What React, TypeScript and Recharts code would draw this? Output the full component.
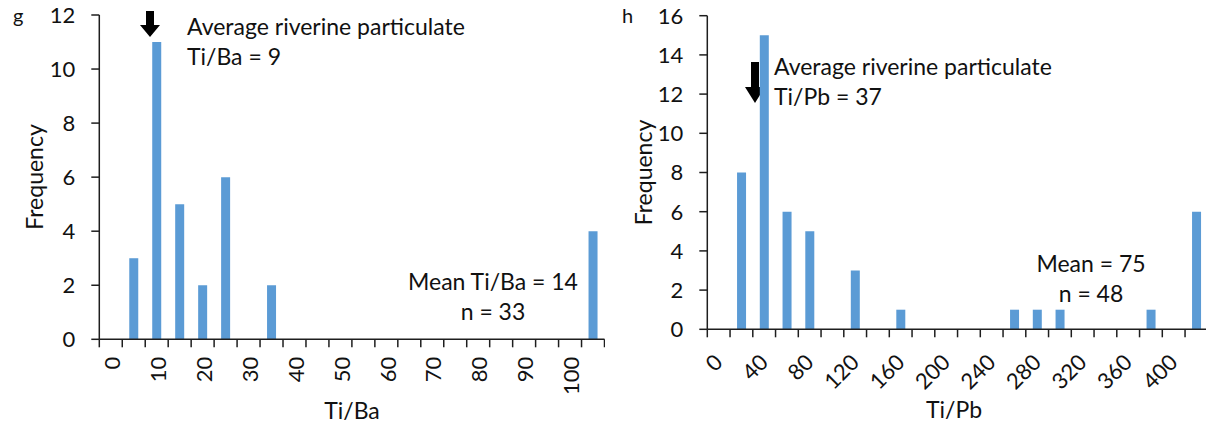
import React from "react";
import { BarChart, Bar, XAxis, YAxis } from "recharts";

// ---- Data ----
const tiBaBins = ["0", "5", "10", "15", "20", "25", "30", "35", "40", "45", "50", "55", "60", "65", "70", "75", "80", "85", "90", "95", "100", "More"];
const tiBaFreq = [0, 3, 11, 5, 2, 6, 0, 2, 0, 0, 0, 0, 0, 0, 0, 0, 0, 0, 0, 0, 0, 4];
const tiBaYTicks = [0, 2, 4, 6, 8, 10, 12];

const tiPbBins = ["0", "20", "40", "60", "80", "100", "120", "140", "160", "180", "200", "220", "240", "260", "280", "300", "320", "340", "360", "380", "400", "More"];
const tiPbFreq = [0, 8, 15, 6, 5, 0, 3, 0, 1, 0, 0, 0, 0, 1, 1, 1, 0, 0, 0, 1, 0, 6];
const tiPbYTicks = [0, 2, 4, 6, 8, 10, 12, 14, 16];

const tiBaData = tiBaBins.map((bin, i) => ({ bin, freq: tiBaFreq[i] }));
const tiPbData = tiPbBins.map((bin, i) => ({ bin, freq: tiPbFreq[i] }));

// ---- Style ----
const FONT = "Lato, 'Liberation Sans', sans-serif";
const FS = 23;
const AXIS = "#1e1e1e";
const TEXT = "#111111";
const BAR = "#5B9BD5";

function makeXTick(band: number, count: number, angle: number, gap: number, dxAdj: number) {
  return (props: any) => {
    const { x, y, payload, index } = props;
    const left = x - band / 2;
    const ax = x + dxAdj;
    const ay = y + gap;
    return (
      <g>
        <line x1={left} y1={y} x2={left} y2={y + 8} stroke={AXIS} strokeWidth={1.5} />
        {index === count - 1 && (
          <line x1={x + band / 2} y1={y} x2={x + band / 2} y2={y + 8} stroke={AXIS} strokeWidth={1.5} />
        )}
        {index % 2 === 0 && (
          <text
            x={ax}
            y={ay}
            dy="0.35em"
            textAnchor="end"
            transform={`rotate(${angle}, ${ax}, ${ay})`}
            fill={TEXT}
            fontSize={22}
            fontFamily={FONT}
          >
            {payload.value}
          </text>
        )}
      </g>
    );
  };
}

function Arrow({ cx, top, headTop, tip }: { cx: number; top: number; headTop: number; tip: number }) {
  const d = `M ${cx - 4} ${top} L ${cx + 4} ${top} L ${cx + 4} ${headTop} L ${cx + 10} ${headTop} L ${cx} ${tip} L ${cx - 10} ${headTop} L ${cx - 4} ${headTop} Z`;
  return <path d={d} fill="#000" />;
}

const txt = { fill: TEXT, fontSize: FS, fontFamily: FONT } as const;

export default function App() {
  const band1 = (604.5 - 99.3) / 22;
  const band2 = (1207.8 - 707.3) / 22;
  return (
    <div
      style={{
        position: "absolute",
        left: 0,
        top: 0,
        width: 1206,
        height: 429,
        overflow: "hidden",
        background: "#fff",
      }}
    >
      <div style={{ position: "absolute", left: 0, top: 0 }}>
        <BarChart
          width={605}
          height={429}
          data={tiBaData}
          margin={{ top: 15, right: 0.5, bottom: 29.7, left: 39.3 }}
          barSize={9}
        >
          <XAxis
            dataKey="bin"
            interval={0}
            tickSize={0}
            tickMargin={0}
            tickLine={false}
            axisLine={{ stroke: AXIS, strokeWidth: 1.5 }}
            tick={makeXTick(band1, tiBaBins.length, -90, 17.5, 1.5)}
            height={60}
          />
          <YAxis
            type="number"
            domain={[0, 12]}
            ticks={tiBaYTicks}
            interval={0}
            width={60}
            tickSize={8}
            tickMargin={16}
            axisLine={{ stroke: AXIS, strokeWidth: 1.5 }}
            tickLine={{ stroke: AXIS, strokeWidth: 1.5 }}
            tick={{ fill: TEXT, fontSize: 22, fontFamily: FONT }}
          />
          <Bar dataKey="freq" fill={BAR} isAnimationActive={false} />
          <text x={13} y={23} fill={TEXT} fontSize={20} fontFamily={FONT}>g</text>
          <text x={35} y={177} dy="0.35em" textAnchor="middle" transform="rotate(-90, 35, 177)" {...txt}>Frequency</text>
          <Arrow cx={150} top={11} headTop={25} tip={37} />
          <text x={187} y={35} {...txt}>Average riverine particulate</text>
          <text x={187} y={65} {...txt}>Ti/Ba = 9</text>
          <text x={493} y={290} textAnchor="middle" {...txt}>Mean Ti/Ba = 14</text>
          <text x={493} y={320} textAnchor="middle" {...txt}>n = 33</text>
          <text x={352} y={419} textAnchor="middle" {...txt}>Ti/Ba</text>
        </BarChart>
      </div>
      <div style={{ position: "absolute", left: 605, top: 0 }}>
        <BarChart
          width={610}
          height={429}
          data={tiPbData}
          margin={{ top: 15.7, right: 7.2, bottom: 39.7, left: 42.3 }}
          barSize={9}
        >
          <XAxis
            dataKey="bin"
            interval={0}
            tickSize={0}
            tickMargin={0}
            tickLine={false}
            axisLine={{ stroke: AXIS, strokeWidth: 1.5 }}
            tick={makeXTick(band2, tiPbBins.length, -45, 29, 0)}
            height={60}
          />
          <YAxis
            type="number"
            domain={[0, 16]}
            ticks={tiPbYTicks}
            interval={0}
            width={60}
            tickSize={8}
            tickMargin={16}
            axisLine={{ stroke: AXIS, strokeWidth: 1.5 }}
            tickLine={{ stroke: AXIS, strokeWidth: 1.5 }}
            tick={{ fill: TEXT, fontSize: 22, fontFamily: FONT }}
          />
          <Bar dataKey="freq" fill={BAR} isAnimationActive={false} />
          <text x={17} y={23} fill={TEXT} fontSize={20} fontFamily={FONT}>h</text>
          <text x={39} y={172.5} dy="0.35em" textAnchor="middle" transform="rotate(-90, 39, 172.5)" {...txt}>Frequency</text>
          <Arrow cx={150} top={62} headTop={87} tip={103} />
          <text x={169} y={75} {...txt}>Average riverine particulate</text>
          <text x={169} y={105} {...txt}>Ti/Pb = 37</text>
          <text x={486} y={272} textAnchor="middle" {...txt}>Mean = 75</text>
          <text x={486} y={302} textAnchor="middle" {...txt}>n = 48</text>
          <text x={349} y={418} textAnchor="middle" {...txt}>Ti/Pb</text>
        </BarChart>
      </div>
    </div>
  );
}
